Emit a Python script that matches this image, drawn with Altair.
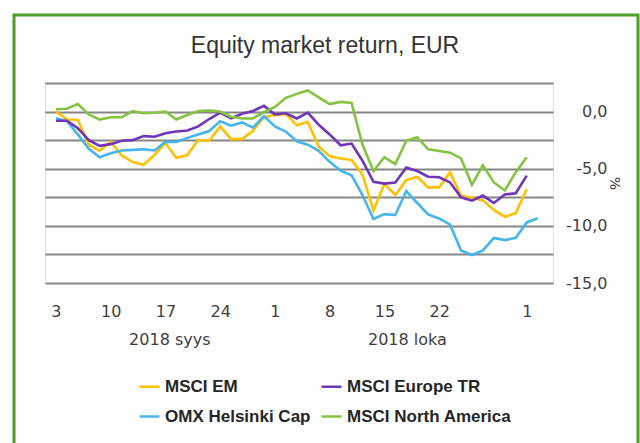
import altair as alt
import pandas as pd

# business days 3 Sep 2018 .. 2 Nov 2018 (index positions on the axis)
dates = pd.bdate_range("2018-09-03", "2018-11-02")

msci_em = [0.0, -0.7, -0.72, -2.9, -3.43, -2.65, -3.83, -4.42, -4.66, -3.8,
           -2.75, -4.05, -3.8, -2.49, -2.55, -1.3, -2.41, -2.41, -1.68, -0.5,
           -0.3, -0.2, -1.2, -0.9, -3.05, -3.9, -4.1, -4.23, -5.5, -8.67,
           -6.34, -7.3, -6.0, -5.7, -6.63, -6.63, -5.32, -7.36, -7.55, -7.77,
           -8.6, -9.2, -8.9, -6.78]
msci_europe = [-0.8, -0.8, -1.45, -2.5, -3.0, -2.85, -2.55, -2.5, -2.15, -2.2,
               -1.9, -1.75, -1.65, -1.3, -0.65, -0.1, -0.6, -0.2, 0.05, 0.5,
               -0.25, -0.15, -0.6, -0.1, -1.15, -2.0, -2.95, -2.8, -4.3, -6.15,
               -6.3, -6.2, -4.9, -5.2, -5.7, -5.75, -6.2, -7.5, -7.8, -7.35,
               -8.0, -7.25, -7.15, -5.6]
omx_helsinki = [-0.58, -0.85, -2.0, -3.25, -4.0, -3.65, -3.4, -3.35, -3.3, -3.4,
                -2.65, -2.65, -2.3, -2.0, -1.7, -0.85, -1.24, -0.95, -1.4, -0.4,
                -1.3, -1.75, -2.6, -2.9, -3.43, -4.4, -5.17, -5.57, -7.3, -9.4,
                -8.97, -9.05, -6.95, -8.0, -9.0, -9.35, -9.9, -12.15, -12.55, -12.15,
                -11.05, -11.25, -11.05, -9.7, -9.33]
msci_na = [0.2, 0.25, 0.65, -0.25, -0.7, -0.5, -0.5, 0.05, -0.15, -0.1,
           0.0, -0.7, -0.3, 0.05, 0.1, 0.0, -0.45, -0.6, -0.6, -0.05,
           0.4, 1.2, 1.55, 1.85, 1.25, 0.65, 0.85, 0.75, -2.9, -5.2,
           -4.0, -4.6, -2.55, -2.25, -3.3, -3.45, -3.6, -4.1, -6.4, -4.7,
           -6.2, -6.9, -5.3, -4.0]

# legend is filled column by column: EM / OMX in column 1, Europe / NA in column 2
series_names = ["MSCI EM", "OMX Helsinki Cap", "MSCI Europe TR", "MSCI North America"]
series_values = [msci_em, omx_helsinki, msci_europe, msci_na]
series_colors = ["#FFC000", "#45B5EC", "#7035B8", "#84C441"]
draw_order = [0, 2, 1, 3]

tick_values = [0, 5, 10, 15, 20, 25, 30, 35, 43]
tick_labels = ["3", "10", "17", "24", "1", "8", "15", "22", "1"]
month_labels = ["2018 syys", "2018 loka"]
month_pos = [10.4, 32.1]
title_text = "Equity market return, EUR"

rows = []
for name, vals, o in zip(series_names, series_values, draw_order):
    for i, v in enumerate(vals):
        rows.append({"idx": i, "date": dates[i].strftime("%Y-%m-%d"),
                     "series": name, "value": v, "ord": o})
df = pd.DataFrame(rows)
months_df = pd.DataFrame({"pos": month_pos, "label": month_labels})

label_expr = "''"
for v, l in reversed(list(zip(tick_values, tick_labels))):
    label_expr = f"datum.value == {v} ? '{l}' : ({label_expr})"

ylabel_expr = ("datum.value % 5 == 0 ? replace(replace(format(datum.value, '.1f'), '.', ','), '\u2212', '-') : ''")

W, H = 508, 200
FONT = "DejaVu Sans"

x_scale = alt.Scale(domain=[-1, 45.4], nice=False, zero=False)

lines = alt.Chart(df).mark_line(strokeWidth=2.6).encode(
    x=alt.X("idx:Q", scale=x_scale,
            axis=alt.Axis(values=tick_values, labelExpr=label_expr, title=None,
                          grid=False, domain=False, ticks=False,
                          labelFont=FONT, labelFontSize=16, labelColor="#404040",
                          labelPadding=20, labelFlush=False)),
    y=alt.Y("value:Q",
            scale=alt.Scale(domain=[-15, 2.5], nice=False),
            axis=alt.Axis(orient="right", values=[2.5, 0, -2.5, -5, -7.5, -10, -12.5, -15],
                          labelExpr=ylabel_expr, grid=True, gridColor="#858585",
                          gridWidth=2, domain=False, ticks=False, tickSize=0,
                          labelAlign="right", labelPadding=54,
                          labelFont=FONT, labelFontSize=16, labelColor="#404040",
                          title="%", titleAngle=90, titleX=53, titleY=100,
                          titleFont=FONT, titleFontSize=14, titleFontWeight="normal",
                          titleColor="#404040")),
    color=alt.Color("series:N",
                    scale=alt.Scale(domain=series_names, range=series_colors),
                    legend=alt.Legend(title=None, orient="none", legendX=93, legendY=292,
                                      columns=2, symbolType="stroke", symbolSize=400,
                                      symbolStrokeWidth=2.5, labelFont="Liberation Sans",
                                      labelFontWeight="bold", labelFontSize=17,
                                      labelColor="#262626", rowPadding=10, labelLimit=400,
                                      columnPadding=5, labelOffset=4)),
    order=alt.Order("ord:Q", sort="ascending"),
    detail="series:N",
)

months = alt.Chart(months_df).mark_text(
    font=FONT, fontSize=16, color="#404040", baseline="middle", align="center"
).encode(
    x=alt.X("pos:Q", scale=x_scale),
    y=alt.value(257),
    text="label:N",
)

title_df = pd.DataFrame({"t": [title_text]})
title = alt.Chart(title_df).mark_text(
    font="Liberation Sans", fontSize=23, color="#333333", baseline="alphabetic",
    align="center"
).encode(x=alt.value(280), y=alt.value(-30), text="t:N")

frame_df = pd.DataFrame({"k": [0]})
frame = alt.Chart(frame_df).mark_rect(
    fillOpacity=0, stroke="#4E9E2A", strokeWidth=3
).encode(
    x=alt.value(-31), x2=alt.value(593), y=alt.value(-68), y2=alt.value(380)
)

chart = alt.layer(frame, lines, months, title).properties(
    width=W, height=H,
    padding={"left": 45, "top": 83, "right": 87, "bottom": 160},
    autosize=alt.AutoSizeParams(type="none"),
).configure_view(stroke=None).configure(background="white")

chart.save("out.html", embed_options={"renderer": "svg", "actions": False})
